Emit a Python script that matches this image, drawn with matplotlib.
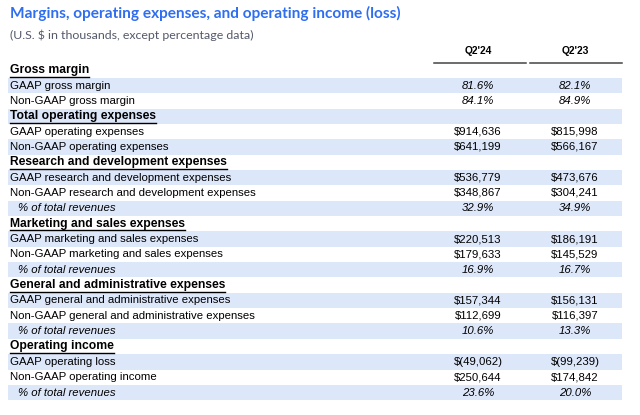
import matplotlib
matplotlib.use("Agg")
import matplotlib.pyplot as plt
from matplotlib.patches import Rectangle

title = "Margins, operating expenses, and operating income (loss)"
subtitle = "(U.S. $ in thousands, except percentage data)"
columns = ["Q2'24", "Q2'23"]

labels = [
    "Gross margin",
    "GAAP gross margin",
    "Non-GAAP gross margin",
    "Total operating expenses",
    "GAAP operating expenses",
    "Non-GAAP operating expenses",
    "Research and development expenses",
    "GAAP research and development expenses",
    "Non-GAAP research and development expenses",
    "% of total revenues",
    "Marketing and sales expenses",
    "GAAP marketing and sales expenses",
    "Non-GAAP marketing and sales expenses",
    "% of total revenues",
    "General and administrative expenses",
    "GAAP general and administrative expenses",
    "Non-GAAP general and administrative expenses",
    "% of total revenues",
    "Operating income",
    "GAAP operating loss",
    "Non-GAAP operating income",
    "% of total revenues",
]
# h = section header, p = percent row (italic), r = regular row
kinds = ["h", "p", "p", "h", "r", "r", "h", "r", "r", "p", "h", "r", "r", "p",
         "h", "r", "r", "p", "h", "r", "r", "p"]
q2_24 = ["", "81.6%", "84.1%", "", "$914,636", "$641,199", "", "$536,779",
         "$348,867", "32.9%", "", "$220,513", "$179,633", "16.9%", "",
         "$157,344", "$112,699", "10.6%", "", "$(49,062)", "$250,644", "23.6%"]
q2_23 = ["", "82.1%", "84.9%", "", "$815,998", "$566,167", "", "$473,676",
         "$304,241", "34.9%", "", "$186,191", "$145,529", "16.7%", "",
         "$156,131", "$116,397", "13.3%", "", "$(99,239)", "$174,842", "20.0%"]

fig = plt.figure(figsize=(6.4, 4.15), dpi=100)
ax = fig.add_axes([0, 0, 1, 1])
ax.set_xlim(0, 640)
ax.set_ylim(415, 0)
ax.axis("off")

body = "Liberation Sans"
fs = 8.2
shade = "#dde7fa"

ax.text(10, 13, title, fontsize=11.1, fontweight="bold", color="#2f6ef0",
        family="Lato", va="center")
ax.text(10, 35, subtitle, fontsize=8.9, color="#55596a", family="Lato", va="center")

col_x = [478, 575]
for cx, name in zip(col_x, columns):
    ax.text(cx, 51, name, fontsize=7.4, fontweight="bold", family=body,
            ha="center", va="center")
ax.plot([434, 526], [63, 63], color="#444", lw=1.1)
ax.plot([530, 622], [63, 63], color="#444", lw=1.1)

top = 62.5
rh = 15.35
fig.canvas.draw()
for i, (lab, k, a, b) in enumerate(zip(labels, kinds, q2_24, q2_23)):
    y = top + rh * (i + 0.5)
    if i % 2 == 1:
        ax.add_patch(Rectangle((8, top + rh * i), 614, rh, color=shade, lw=0))
    if k == "h":
        t = ax.text(10, y, lab, fontsize=fs + 0.5, fontweight="bold",
                    family=body, va="center")
        # underline
        bb = t.get_window_extent(renderer=fig.canvas.get_renderer())
        ax.plot([10, 10 + bb.width], [y + 6.5, y + 6.5], color="black", lw=1)
    elif lab.startswith("%"):
        ax.text(18, y, lab, fontsize=fs, style="italic", family=body, va="center")
    else:
        ax.text(10, y, lab, fontsize=fs, family=body, va="center")
    st = "italic" if k == "p" else "normal"
    ax.text(col_x[0], y, a, fontsize=fs, style=st, family=body, ha="center", va="center")
    ax.text(col_x[1], y, b, fontsize=fs, style=st, family=body, ha="center", va="center")

fig.savefig("out.png", dpi=100)
